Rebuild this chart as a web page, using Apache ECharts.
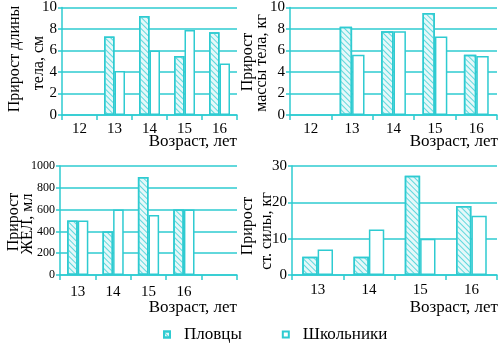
<!DOCTYPE html>
<html><head><meta charset="utf-8">
<script src="https://cdn.jsdelivr.net/npm/echarts@6/dist/echarts.min.js"></script>
<style>html,body{margin:0;padding:0;background:#fff}#c{width:500px;height:343px}</style>
</head><body><div id="c"></div>
<script>
// ---- data ----
const catsLen = ['12','13','14','15','16'];
const swimLen = [null, 7.3, 9.2, 5.5, 7.7];
const schoolLen = [null, 4.1, 6.0, 7.9, 4.8];

const catsMass = ['12','13','14','15','16'];
const swimMass = [null, 8.2, 7.8, 9.5, 5.6];
const schoolMass = [null, 5.6, 7.8, 7.3, 5.5];

const catsVC = ['13','14','15','16',''];
const swimVC = [500, 400, 900, 600, null];
const schoolVC = [500, 600, 550, 600, null];

const catsStr = ['13','14','15','16'];
const swimStr = [5, 5, 27.3, 19];
const schoolStr = [7, 12.5, 10, 16.3];

const seriesNames = ['Пловцы', 'Школьники'];
const yTitleLines = [
  ['Прирост длины', 'тела, см'],
  ['Прирост', 'массы тела, кг'],
  ['Прирост', 'ЖЕЛ, мл'],
  ['Прирост', 'ст. силы, кг']
];
const xTitle = 'Возраст, лет';

// ---- styling ----
const CY = '#2ECBD1';
const FONT = '"Liberation Serif", "DejaVu Serif", serif';

const grids = [
  {left: 62, top: 7, width: 175, height: 108},
  {left: 290, top: 7, width: 207, height: 108},
  {left: 60, top: 166, width: 177, height: 109},
  {left: 292, top: 166, width: 205, height: 109}
];
const cats = [catsLen, catsMass, catsVC, catsStr];
const yCfg = [
  {max: 10, interval: 2, fs: 15},
  {max: 10, interval: 2, fs: 15},
  {max: 1000, interval: 200, fs: 12},
  {max: 30, interval: 10, fs: 15}
];
const xMargin = [7, 7, 10, 8];

const xAxis = cats.map((c, i) => ({
  type: 'category', gridIndex: i, data: c,
  axisLine: {lineStyle: {color: CY, width: 1.5}},
  axisTick: {show: true, length: 5, lineStyle: {color: CY, width: 1.5}},
  axisLabel: {color: '#000', fontFamily: FONT, fontSize: 15, margin: xMargin[i]}
}));
const yAxis = yCfg.map((y, i) => ({
  type: 'value', gridIndex: i, min: 0, max: y.max, interval: y.interval,
  axisLine: {show: true, lineStyle: {color: CY, width: 1.5}},
  axisTick: {show: true, length: 4, lineStyle: {color: CY, width: 1.5}},
  axisLabel: {color: '#000', fontFamily: FONT, fontSize: y.fs, margin: 5, formatter: v => String(v)},
  splitLine: {show: true, lineStyle: {color: CY, width: 1.5}}
}));
const sw = [swimLen, swimMass, swimVC, swimStr];
const sc = [schoolLen, schoolMass, schoolVC, schoolStr];
const series = [];
for (let i = 0; i < 4; i++) {
  series.push({type: 'bar', name: seriesNames[0], xAxisIndex: i, yAxisIndex: i, data: sw[i],
    barWidth: '30%', barGap: '0%',
    itemStyle: {color: '#e6f8f9', borderColor: CY, borderWidth: 1.5,
      decal: {symbol: 'rect', color: '#5fd8dd', dashArrayX: [1, 0], dashArrayY: [1, 2.4], rotation: Math.PI / 4, symbolSize: 1}}});
  series.push({type: 'bar', name: seriesNames[1], xAxisIndex: i, yAxisIndex: i, data: sc[i],
    barWidth: '30%', barGap: '0%',
    itemStyle: {color: '#ffffff', borderColor: CY, borderWidth: 1.5}});
}

// axis titles as text
const yPos = [
  [[15, 59], [39, 63]],
  [[248, 62], [262, 63]],
  [[14, 222], [28, 224]],
  [[248, 226], [267, 231]]
];
const xPos = [[237, 142], [498, 142], [237, 308], [498, 308]];
const graphic = [];
yTitleLines.forEach((lines, i) => {
  lines.forEach((t, j) => {
    graphic.push({type: 'text', x: yPos[i][j][0], y: yPos[i][j][1], rotation: Math.PI / 2,
      style: {text: t, font: '16px ' + FONT, fill: '#000', textAlign: 'center', textVerticalAlign: 'middle'}});
  });
});
xPos.forEach(p => {
  graphic.push({type: 'text', x: p[0], y: p[1],
    style: {text: xTitle, font: '17px ' + FONT, fill: '#000', textAlign: 'right', textVerticalAlign: 'middle'}});
});

const chart = echarts.init(document.getElementById('c'), null, {renderer: 'canvas'});
chart.setOption({
  animation: false,
  backgroundColor: '#fff',
  grid: grids,
  xAxis: xAxis,
  yAxis: yAxis,
  graphic: graphic,
  legend: {
    data: seriesNames, left: 158, top: 321, itemWidth: 6, itemHeight: 6, itemGap: 40,
    icon: 'rect',
    textStyle: {color: '#000', fontFamily: FONT, fontSize: 17, padding: [0, 0, 0, 9]}
  },
  series: series
});
</script></body></html>
